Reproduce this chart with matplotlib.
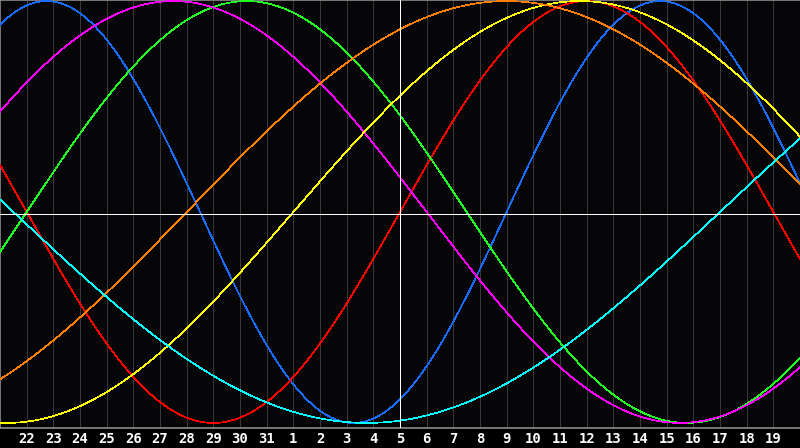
import numpy as np
import matplotlib
matplotlib.use("Agg")
import matplotlib.pyplot as plt

# --- data -------------------------------------------------------------
# cycle names, lengths (days) and the day-within-cycle at the centre date
cycles = ["Physical", "Emotional", "Intellectual", "Intuitive",
          "Aesthetic", "Awareness", "Spiritual"]
periods = [23, 28, 33, 38, 43, 48, 53]
cycle_day_today = [19, 0, 14, 18, 4, 8, 41]
colors = ["#1a6cff", "#ff0000", "#22ff22", "#ff00ff",
          "#ffff00", "#ff7f00", "#00ffff"]

# day offsets relative to the centre date, and their calendar labels
day_offsets = list(range(-14, 15))
tick_labels = ["22", "23", "24", "25", "26", "27", "28", "29", "30", "31",
               "1", "2", "3", "4", "5", "6", "7", "8", "9", "10",
               "11", "12", "13", "14", "15", "16", "17", "18", "19"]

# --- figure -----------------------------------------------------------
W, H = 800, 448
PX = 0.72  # one pixel in points at dpi 100
fig = plt.figure(figsize=(W / 100, H / 100), dpi=100, facecolor="black")
ax = fig.add_axes([0, (H - 428) / H, 1, 428 / H])
ax.set_facecolor("#060609")

t = np.linspace(-15, 15, 1201)
for P, d0, c in zip(periods, cycle_day_today, colors):
    v = np.sin(2 * np.pi * (t + d0) / P)
    ax.plot(t, v, color=c, lw=0.5, antialiased=False, zorder=3)

# grid
for d in day_offsets:
    if d == 0:
        continue
    ax.axvline(d, color="#383838", lw=PX, antialiased=False, zorder=1)
ax.axvline(0, color="white", lw=PX, antialiased=False, zorder=4)
ax.axhline(-0.01, color="white", lw=PX, antialiased=False, zorder=4)

ax.set_xlim(-15, 15)
ax.set_ylim(-1.024, 1.005)

for side in ["left", "top", "bottom"]:
    ax.spines[side].set_color("#9a9a9a")
    ax.spines[side].set_linewidth(1.5 * PX)
ax.spines["right"].set_visible(False)

ax.set_yticks([])
ax.set_xticks(day_offsets)
ax.set_xticklabels(tick_labels, color="white", fontsize=10,
                   fontweight="bold", family="DejaVu Sans Mono")
ax.tick_params(axis="x", length=0, pad=3)

fig.savefig("out.png", dpi=100, facecolor="black")
